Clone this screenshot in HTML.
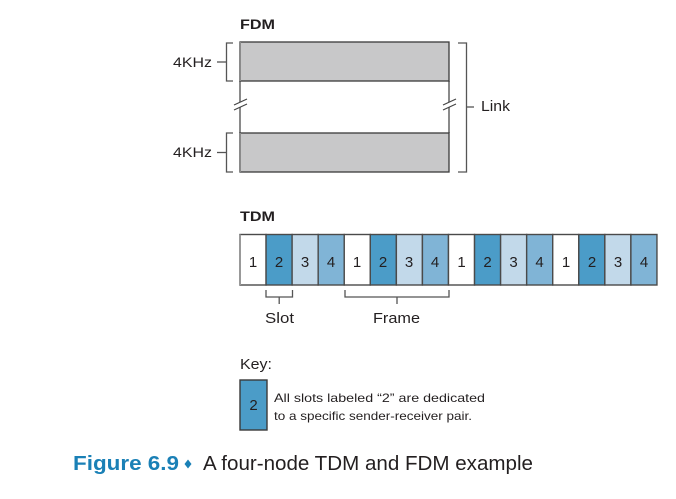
<!DOCTYPE html>
<html><head><meta charset="utf-8"><style>
html,body{margin:0;padding:0;background:#fff;}
svg{display:block;}
text{font-family:"Liberation Sans",sans-serif;fill:#231f20;}
</style></head><body>
<svg width="676" height="499" viewBox="0 0 676 499" xmlns="http://www.w3.org/2000/svg">
<!-- FDM -->
<text x="240" y="29" font-size="14" font-weight="bold" textLength="35" lengthAdjust="spacingAndGlyphs">FDM</text>
<!-- vertical connectors -->
<g stroke="#8a8a8a" stroke-width="2" fill="none">
<path d="M240,81 V102 M240,107 V133"/>
<path d="M449,81 V102 M449,107 V133"/>
</g>
<g stroke="#444" stroke-width="1.2" fill="none">
<path d="M234,105 L247,99 M234,110 L247,104"/>
<path d="M443,105 L456,99 M443,110 L456,104"/>
</g>
<rect x="240" y="42" width="209" height="39" fill="#c8c8c9" stroke="#3a3a3a" stroke-width="1.3"/>
<rect x="240" y="133" width="209" height="39" fill="#c8c8c9" stroke="#3a3a3a" stroke-width="1.3"/>
<path d="M240,42 V81 M240,133 V172" stroke="#8a8a8a" stroke-width="2"/>
<!-- left brackets -->
<g stroke="#555" stroke-width="1.3" fill="none">
<path d="M233,43 H226.5 V81 H233"/>
<path d="M217,62 H226.5"/>
<path d="M233,133 H226.5 V172 H233"/>
<path d="M217,152.5 H226.5"/>
<path d="M458,43 H466.5 V172 H458"/>
<path d="M466.5,107 H474"/>
</g>
<text x="173" y="67" font-size="14" textLength="39" lengthAdjust="spacingAndGlyphs">4KHz</text>
<text x="173" y="157" font-size="14" textLength="39" lengthAdjust="spacingAndGlyphs">4KHz</text>
<text x="481" y="111" font-size="15" textLength="29" lengthAdjust="spacingAndGlyphs">Link</text>

<!-- TDM -->
<text x="240" y="221" font-size="14" font-weight="bold" textLength="35" lengthAdjust="spacingAndGlyphs">TDM</text>
<g stroke="#4a4a4a" stroke-width="1.4">
<rect x="240" y="234.5" width="26.06" height="50.5" fill="#ffffff"/>
<rect x="266.06" y="234.5" width="26.06" height="50.5" fill="#4b9cc8"/>
<rect x="292.12" y="234.5" width="26.06" height="50.5" fill="#c2d9ea"/>
<rect x="318.18" y="234.5" width="26.06" height="50.5" fill="#80b4d6"/>
<rect x="344.24" y="234.5" width="26.06" height="50.5" fill="#ffffff"/>
<rect x="370.3" y="234.5" width="26.06" height="50.5" fill="#4b9cc8"/>
<rect x="396.36" y="234.5" width="26.06" height="50.5" fill="#c2d9ea"/>
<rect x="422.42" y="234.5" width="26.06" height="50.5" fill="#80b4d6"/>
<rect x="448.48" y="234.5" width="26.06" height="50.5" fill="#ffffff"/>
<rect x="474.54" y="234.5" width="26.06" height="50.5" fill="#4b9cc8"/>
<rect x="500.6" y="234.5" width="26.06" height="50.5" fill="#c2d9ea"/>
<rect x="526.66" y="234.5" width="26.06" height="50.5" fill="#80b4d6"/>
<rect x="552.72" y="234.5" width="26.06" height="50.5" fill="#ffffff"/>
<rect x="578.78" y="234.5" width="26.06" height="50.5" fill="#4b9cc8"/>
<rect x="604.84" y="234.5" width="26.06" height="50.5" fill="#c2d9ea"/>
<rect x="630.9" y="234.5" width="26.06" height="50.5" fill="#80b4d6"/>
</g>
<path d="M240,234.5 V285" stroke="#999" stroke-width="2"/>
<g font-size="15" text-anchor="middle">
<text x="253" y="267">1</text><text x="279" y="267">2</text><text x="305" y="267">3</text><text x="331" y="267">4</text>
<text x="357" y="267">1</text><text x="383" y="267">2</text><text x="409" y="267">3</text><text x="435" y="267">4</text>
<text x="461.5" y="267">1</text><text x="487.5" y="267">2</text><text x="513.5" y="267">3</text><text x="539.5" y="267">4</text>
<text x="566" y="267">1</text><text x="592" y="267">2</text><text x="618" y="267">3</text><text x="644" y="267">4</text>
</g>
<g stroke="#555" stroke-width="1.3" fill="none">
<path d="M266,290 V297 H292.5 V290"/>
<path d="M279.2,297 V304"/>
<path d="M345,290 V297 H449 V290"/>
<path d="M397,297 V304"/>
</g>
<text x="265" y="323" font-size="15" textLength="29" lengthAdjust="spacingAndGlyphs">Slot</text>
<text x="373" y="323" font-size="15" textLength="47" lengthAdjust="spacingAndGlyphs">Frame</text>

<!-- Key -->
<text x="240" y="369" font-size="15" textLength="32" lengthAdjust="spacingAndGlyphs">Key:</text>
<rect x="240" y="380" width="27" height="50" fill="#4b9cc8" stroke="#3a3a3a" stroke-width="1.4"/>
<text x="253.5" y="410" font-size="15" text-anchor="middle">2</text>
<text x="274" y="402" font-size="12" fill="#3a3a3a" textLength="211" lengthAdjust="spacingAndGlyphs">All slots labeled “2” are dedicated</text>
<text x="274" y="420" font-size="12" fill="#3a3a3a" textLength="198" lengthAdjust="spacingAndGlyphs">to a specific sender-receiver pair.</text>

<!-- Caption -->
<text x="73" y="470" font-size="20" font-weight="bold" style="fill:#1a80b6" textLength="106" lengthAdjust="spacingAndGlyphs">Figure 6.9</text>
<path d="M188,459.5 L191.5,464 L188,468.5 L184.5,464 Z" fill="#1a80b6"/>
<text x="203" y="470" font-size="20" textLength="330" lengthAdjust="spacingAndGlyphs">A four-node TDM and FDM example</text>
</svg>
</body></html>
